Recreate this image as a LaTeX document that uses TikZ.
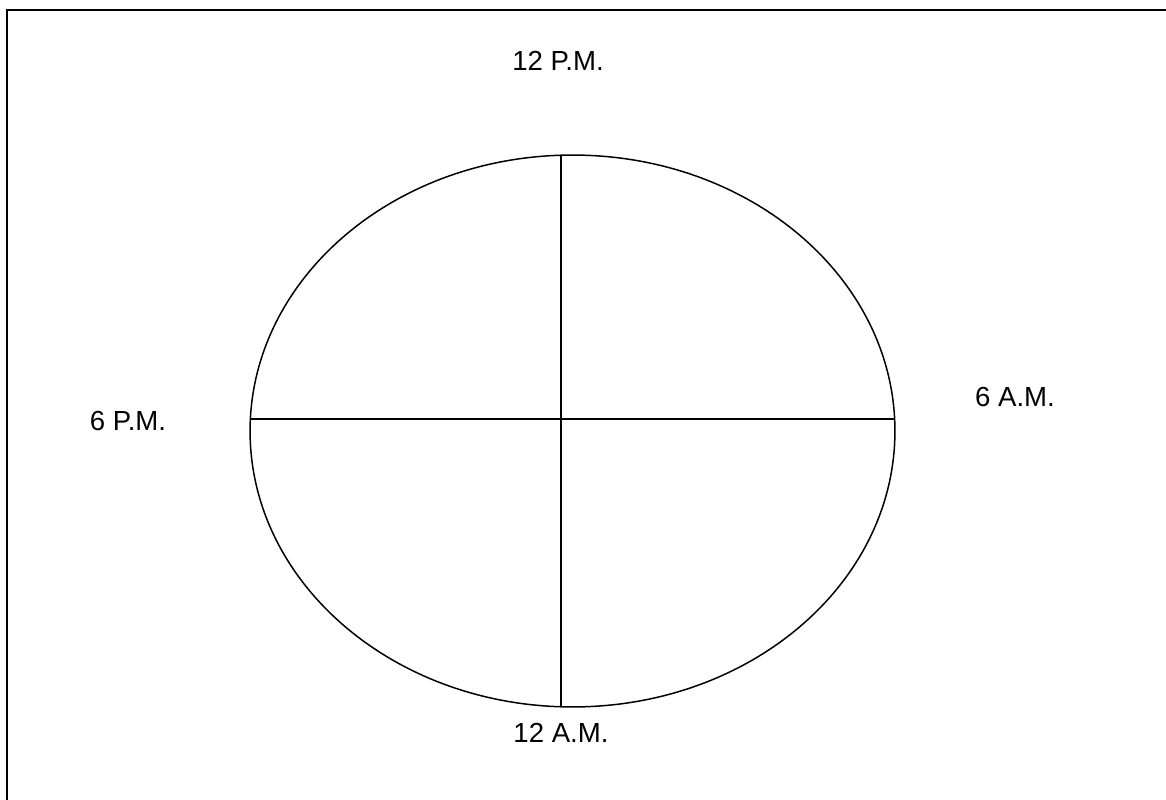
\documentclass[tikz,border=0pt]{standalone}
\usepackage{fontspec}
\setmainfont{Liberation Sans}
\usetikzlibrary{positioning,calc,shapes.geometric}

\begin{document}
\begin{tikzpicture}[
  x=0.02cm, y=-0.02cm,
  frame/.style={line width=1.3pt, draw=black},
  dial/.style={
    ellipse,
    draw=black,
    line width=0.85pt,
    inner sep=0pt,
    minimum width=12.9cm,
    minimum height=11.04cm
  },
  spoke/.style={line width=0.85pt, draw=black},
  hour/.style={font=\fontsize{15.7}{18}\selectfont, inner sep=0pt}
]
\useasboundingbox (0,0) rectangle (1166,800);
\draw[frame] (7,812) -- (7,10) -- (1170,10);

\node[dial] (clock) at (572.5,431) {};

\coordinate (top) at (561,155);
\coordinate (bottom) at (561,707);
\coordinate (left) at (250,419);
\coordinate (right) at (895,419);

\node[hour] (noon) at (558,61) {12 P.M.};
\node[hour] (midnight) at (561,733) {12 A.M.};
\node[hour] (evening) at (128,421) {6 P.M.};
\node[hour] (morning) at (1015,397) {6 A.M.};

\draw[spoke] (top) -- (bottom);
\draw[spoke] (left) -- (right);
\end{tikzpicture}
\end{document}
